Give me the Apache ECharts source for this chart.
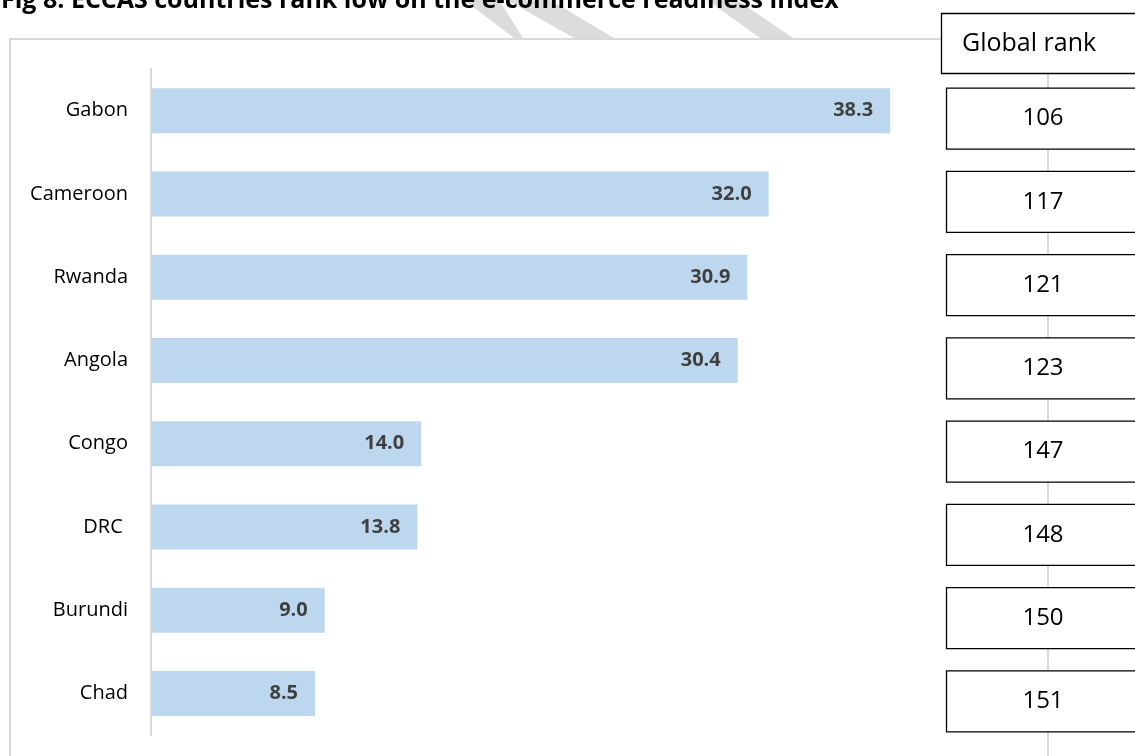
<!DOCTYPE html>
<html>
<head>
<meta charset="utf-8">
<title>ECCAS e-commerce readiness</title>
<script src="https://cdn.jsdelivr.net/npm/echarts@6/dist/echarts.min.js"></script>
<style>
  html, body { margin: 0; padding: 0; background: #fff; }
  #chart { width: 1135px; height: 756px; }
</style>
</head>
<body>
<div id="chart"></div>
<script>
// Index scores by country, with each country's global rank
const categories = ['Gabon', 'Cameroon', 'Rwanda', 'Angola', 'Congo', 'DRC ', 'Burundi', 'Chad'];
const scores = [38.3, 32.0, 30.9, 30.4, 14.0, 13.8, 9.0, 8.5];
const globalRanks = [106, 117, 121, 123, 147, 148, 150, 151];
const titleText = 'Fig 8: ECCAS countries rank low on the e-commerce readiness index';
const rankHeader = 'Global rank';

const FONT = "'Open Sans', 'Noto Sans', sans-serif";
const GRID_LINE = '#d9d9d9';

const chart = echarts.init(document.getElementById('chart'), null, { renderer: 'canvas' });

const option = {
  animation: false,
  backgroundColor: '#fff',
  grid: { left: 151, top: 69, width: 772, height: 666, containLabel: false },
  xAxis: { type: 'value', min: 0, max: 40, show: false },
  yAxis: {
    type: 'category',
    data: categories,
    inverse: true,
    z: 3,
    axisLine: { lineStyle: { color: GRID_LINE, width: 2 } },
    axisTick: { show: false },
    splitLine: { show: false },
    axisLabel: { fontFamily: FONT, fontSize: 20, color: '#000', margin: 23 }
  },
  graphic: [
    // faint watermark strokes showing above the plot frame
    { type: 'polygon', z: 0, silent: true,
      shape: { points: [[464, 0], [499, 0], [523, 38], [514, 38]] },
      style: { fill: '#dcdcdc' } },
    { type: 'polygon', z: 0, silent: true,
      shape: { points: [[507, 0], [550, 0], [614, 38], [574, 38]] },
      style: { fill: '#dcdcdc' } },
    { type: 'polygon', z: 0, silent: true,
      shape: { points: [[707, 0], [737, 0], [793, 38], [760, 38]] },
      style: { fill: '#dcdcdc' } },
    // figure title
    { type: 'text', z: 1, silent: true,
      style: { text: titleText, x: 1, y: 1, fill: '#000',
               font: 'bold 25px ' + FONT, align: 'left', verticalAlign: 'middle' } },
    // plot frame
    { type: 'rect', z: 1, z2: 0, silent: true,
      shape: { x: 10, y: 39, width: 1300, height: 800 },
      style: { fill: '#fff', stroke: GRID_LINE, lineWidth: 2 } },
    // connector running down the rank column
    { type: 'line', z: 1, z2: 1, silent: true,
      shape: { x1: 1048, y1: 73, x2: 1048, y2: 760 },
      style: { stroke: GRID_LINE, lineWidth: 2 } },
    // rank column header
    { type: 'rect', z: 3, silent: true,
      shape: { x: 941.5, y: 13.5, width: 260, height: 60 },
      style: { fill: '#fff', stroke: '#000', lineWidth: 1.3 } },
    { type: 'text', z: 4, silent: true,
      style: { text: rankHeader, x: 962, y: 44, fill: '#000',
               font: '25px ' + FONT, align: 'left', verticalAlign: 'middle' } }
  ],
  series: [
    {
      type: 'bar',
      data: scores,
      barWidth: 45,
      silent: true,
      itemStyle: { color: '#bdd7ee' },
      label: {
        show: true,
        position: 'insideRight',
        distance: 17,
        formatter: p => p.value.toFixed(1),
        fontFamily: FONT,
        fontWeight: 'bold',
        fontSize: 20,
        color: '#404040'
      }
    },
    {
      // boxed global rank beside each country row
      type: 'custom',
      silent: true,
      z: 2,
      clip: false,
      data: globalRanks.map((r, i) => [i, r]),
      encode: { y: 0 },
      renderItem: function (params, api) {
        const cy = api.coord([0, api.value(0)])[1] + 8;
        return {
          type: 'group',
          children: [
            { type: 'rect',
              shape: { x: 946.5, y: cy - 30.5, width: 260, height: 61 },
              style: { fill: '#fff', stroke: '#000', lineWidth: 1.3 } },
            { type: 'text',
              style: { text: String(api.value(1)), x: 1043, y: cy, fill: '#000',
                       font: '24px ' + FONT, align: 'center', verticalAlign: 'middle' } }
          ]
        };
      }
    }
  ]
};

chart.setOption(option);
</script>
</body>
</html>
